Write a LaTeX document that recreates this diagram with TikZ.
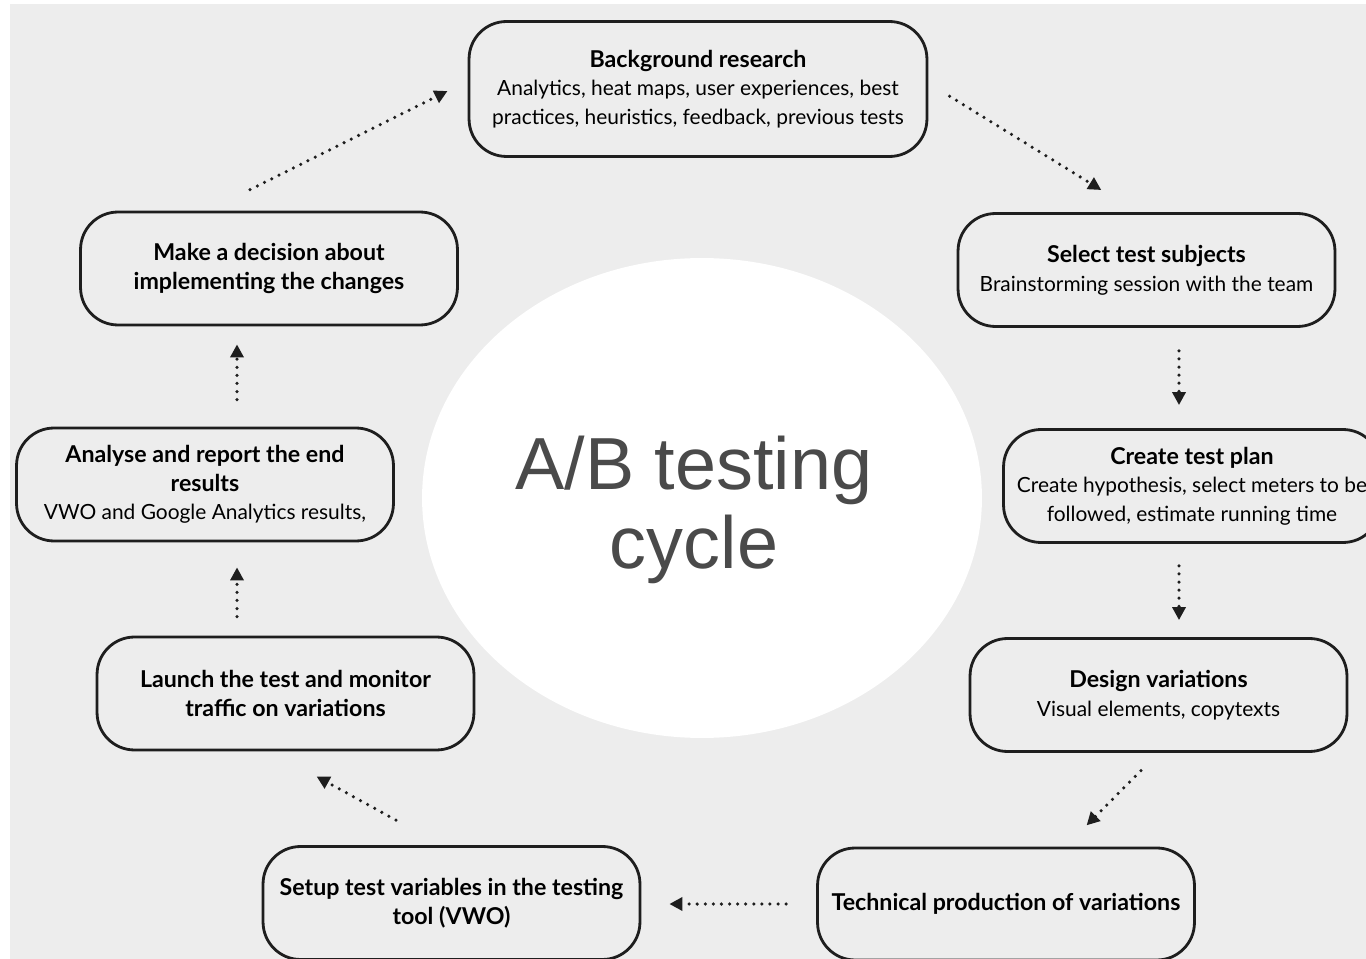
\documentclass[tikz,border=0pt]{standalone}
\usepackage{fontspec}
\setmainfont{Lato}
\newfontfamily\cyclefont{Liberation Sans}
\usetikzlibrary{arrows.meta,positioning,shapes.geometric}
\definecolor{panelgrey}{HTML}{EDEDED}
\definecolor{inkgrey}{HTML}{4A4A4A}
\definecolor{boxline}{HTML}{1E1E1E}
\newcommand{\steptitle}[1]{{\fontsize{13.2}{16.3}\selectfont\bfseries #1}}
\tikzset{
  stage/.style={draw=boxline, line width=1.6pt, rounded corners=0.75cm,
    minimum width=7.54cm, minimum height=2.26cm, align=center, inner sep=0pt,
    font=\fontsize{11.9}{16.3}\selectfont},
  flow/.style={draw=boxline, line width=2pt, line cap=round,
    dash pattern=on 0pt off 4.6pt, -{Triangle[length=0.26cm,width=0.26cm]}},
}
\begin{document}
\begin{tikzpicture}[x=0.02cm, y=-0.02cm]
  % frame
  \useasboundingbox (0,0) rectangle (1366,959);
  \clip (0,0) rectangle (1366,959);
  \fill[white] (0,0) rectangle (1366,959);
  \fill[panelgrey] (10,4) rectangle (1366,959);

  % centre
  \node[ellipse, fill=white, minimum width=11.2cm, minimum height=9.6cm] (hub) at (702,498) {};
  \node[text=inkgrey, align=center, font=\cyclefont\fontsize{42}{45}\selectfont] (hubtext) at ([xshift=-0.16cm, yshift=-0.24cm]hub.center) {A/B testing\\cycle};

  % stages
  \node[stage, minimum width=9.16cm, minimum height=2.7cm] (research) at (698,89) {\steptitle{Background research}\\Analytics, heat maps, user experiences, best\\practices, heuristics, feedback, previous tests};
  \node[stage] (subjects) at (1146.5,270) {\steptitle{Select test subjects}\\Brainstorming session with the team};
  \node[stage] (plan) at (1192,486) {\steptitle{Create test plan}\\Create hypothesis, select meters to be\\followed, estimate running time};
  \node[stage] (design) at (1158.5,695) {\steptitle{Design variations}\\Visual elements, copytexts};
  \node[stage, minimum height=2.24cm] (production) at (1006,904) {\steptitle{Technical production of variations}};
  \node[stage] (setup) at (451.5,903) {\steptitle{Setup test variables in the testing}\\\steptitle{tool (VWO)}};
  \node[stage] (launch) at (285.5,693.5) {\steptitle{Launch the test and monitor}\\\steptitle{traffic on variations}};
  \node[stage] (analyse) at (205,484.5) {\steptitle{Analyse and report the end}\\\steptitle{results}\\VWO and Google Analytics results,};
  \node[stage] (decision) at (269,268.5) {\steptitle{Make a decision about}\\\steptitle{implementing the changes}};

  % cycle
  \draw[flow, shorten <=0.5cm, shorten >=0.84cm] ([yshift=0.12cm]research.east) -- ([xshift=-0.19cm]subjects.north);
  \draw[flow, shorten <=0.46cm, shorten >=0.46cm] ([xshift=0.65cm]subjects.south) -- ([xshift=0.65cm]subjects.south |- plan.north);
  \draw[flow, shorten <=0.44cm, shorten >=0.34cm] ([xshift=-0.26cm]plan.south) -- ([xshift=-0.26cm]plan.south |- design.north);
  \draw[flow, shorten <=0.5cm, shorten >=0.6cm] (design.south) -- ([xshift=1.19cm]production.north);
  \draw[flow, shorten <=0.6cm, shorten >=0.56cm] (production.west) -- (production.west -| setup.east);
  \draw[flow, shorten <=1.04cm, shorten >=1.04cm] ([xshift=-0.2cm]setup.north) -- ([xshift=-0.29cm]launch.south);
  \draw[flow, shorten <=0.38cm, shorten >=0.5cm] ([xshift=-0.97cm]launch.north) -- ([xshift=-0.97cm]launch.north |- analyse.south);
  \draw[flow, shorten <=0.54cm, shorten >=0.36cm] ([xshift=0.64cm]analyse.north) -- ([xshift=0.64cm]analyse.north |- decision.south);
  \draw[flow, shorten <=0.94cm, shorten >=0.45cm] ([xshift=-1.22cm]decision.north) -- ([yshift=0.16cm]research.west);
\end{tikzpicture}
\end{document}
